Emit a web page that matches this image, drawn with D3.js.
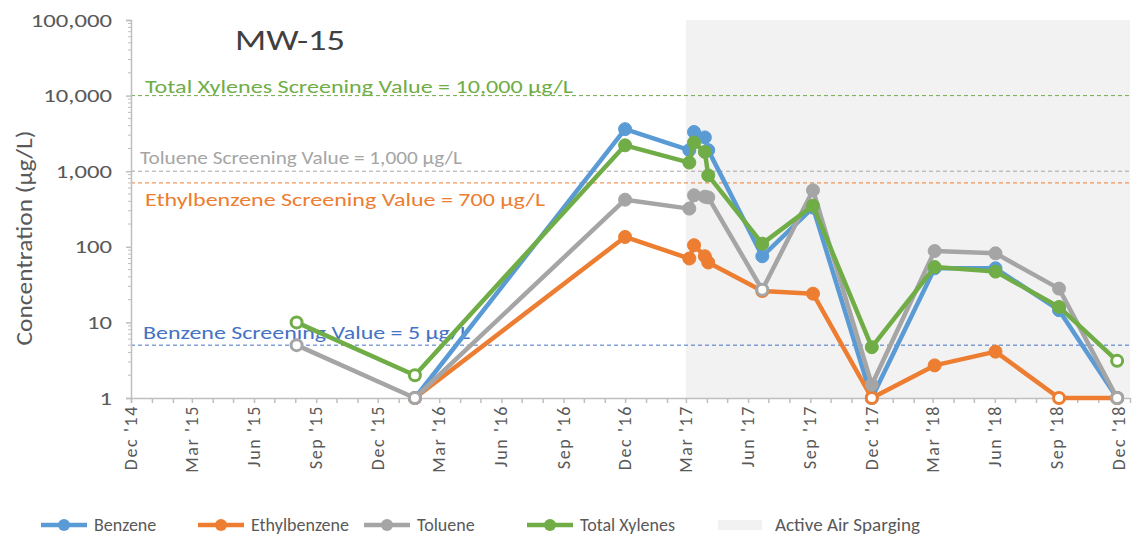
<!DOCTYPE html>
<html>
<head>
<meta charset="utf-8">
<script src="https://cdn.jsdelivr.net/npm/d3@7"></script>
<style>
  html, body { margin: 0; padding: 0; background: #fff; }
  svg { display: block; font-family: Carlito, Calibri, Lato, "Open Sans", sans-serif; }
</style>
</head>
<body>
<svg id="chart" width="1139" height="542"></svg>
<script>
// Sampling dates for well MW-15
const sampleDates = ["2015-08-03", "2016-01-25", "2016-12-01", "2017-03-06", "2017-03-13",
  "2017-03-29", "2017-04-03", "2017-06-22", "2017-09-05", "2017-12-01",
  "2018-03-04", "2018-06-02", "2018-09-04", "2018-11-29"];

// Concentrations in µg/L (null = not sampled)
const benzene      = [null, 1, 3600, 1900, 3300, 2800, 1900, 75, 330, 1, 52, 52, 14.5, 1];
const ethylbenzene = [null, 1, 135, 70, 105, 75, 62, 26, 24, 1, 2.7, 4.1, 1, 1];
const toluene      = [5, 1, 420, 320, 480, 460, 450, 27, 560, 1.5, 88, 82, 28, 1];
const xylenes      = [10, 2, 2200, 1300, 2400, 1800, 880, 110, 350, 4.7, 54, 47, 16, 3.1];

// Non-detect flags (true = below reporting limit, drawn hollow)
const benzeneND      = [false, true, false, false, false, false, false, false, false, true, false, false, false, true];
const ethylbenzeneND = [false, true, false, false, false, false, false, true, false, true, false, false, true, true];
const tolueneND      = [true, true, false, false, false, false, false, true, false, false, false, false, false, true];
const xylenesND      = [true, true, false, false, false, false, false, false, false, false, false, false, false, true];

const seriesNames = ["Benzene", "Ethylbenzene", "Toluene", "Total Xylenes"];
const seriesColors = ["#5B9BD5", "#ED7D31", "#A5A5A5", "#70AD47"];

// Screening values
const screeningLabels = ["Total Xylenes Screening Value = 10,000 µg/L", "Toluene Screening Value = 1,000 µg/L",
  "Ethylbenzene Screening Value = 700 µg/L", "Benzene Screening Value = 5 µg/L"];
const screeningValues = [10000, 1000, 700, 5];
const screeningColors = ["#70AD47", "#A5A5A5", "#ED7D31", "#4472C4"];

// Active air sparging period
const sparging = ["2017-03-01", "2018-12-18"];

const yTicks = [1, 10, 100, 1000, 10000, 100000];
const xDomain = ["2014-12-01", "2018-12-18"];

const parse = d3.utcParse("%Y-%m-%d");
const svg = d3.select("#chart");

const x = d3.scaleUtc().domain(xDomain.map(parse)).range([131, 1130]);
const y = d3.scaleLog().domain([1, 100000]).range([398, 20]);

const axisColor = "#BFBFBF";
const textColor = "#595959";

// Shaded sparging period
svg.append("rect")
  .attr("x", x(parse(sparging[0])))
  .attr("y", y(100000))
  .attr("width", x(parse(sparging[1])) - x(parse(sparging[0])))
  .attr("height", y(1) - y(100000))
  .attr("fill", "#F2F2F2");

// Screening value lines
screeningValues.forEach((v, i) => {
  svg.append("line")
    .attr("x1", x.range()[0]).attr("x2", x.range()[1])
    .attr("y1", y(v)).attr("y2", y(v))
    .attr("stroke", screeningColors[i])
    .attr("stroke-width", 1)
    .attr("stroke-dasharray", "4,3");
});
const labelPos = [[145, 93], [140, 164], [145, 206], [143, 339]];
const labelWidth = [428, 322, 400, 327];
screeningLabels.forEach((t, i) => {
  svg.append("text")
    .attr("x", labelPos[i][0]).attr("y", labelPos[i][1])
    .attr("fill", screeningColors[i])
    .attr("font-size", 19)
    .attr("textLength", labelWidth[i])
    .attr("lengthAdjust", "spacingAndGlyphs")
    .text(t);
});

// Y axis
const yAxis = d3.axisLeft(y).tickValues(yTicks).tickFormat(d3.format(",")).tickSize(5);
const gy = svg.append("g").attr("transform", "translate(131,0)").call(yAxis);
gy.select(".domain").attr("stroke", axisColor).attr("stroke-width", 1.5);
gy.selectAll(".tick line").attr("stroke", axisColor).attr("stroke-width", 1.5);
const ySx = 1.3;
gy.selectAll(".tick text").attr("fill", textColor).attr("font-size", 19)
  .attr("font-family", "Carlito, Calibri, Lato, sans-serif")
  .attr("x", -19 / ySx)
  .attr("transform", `scale(${ySx},1)`);
// Minor log ticks
const minor = [];
for (let d = 1; d < 100000; d *= 10) for (let k = 2; k <= 9; k++) minor.push(d * k);
svg.append("g").selectAll("line").data(minor).join("line")
  .attr("x1", 128).attr("x2", 131)
  .attr("y1", d => y(d)).attr("y2", d => y(d))
  .attr("stroke", axisColor).attr("stroke-width", 1);

// X axis
const monthTicks = d3.utcMonth.range(parse(xDomain[0]), d3.utcDay.offset(parse(xDomain[1]), 1));
const quarterTicks = monthTicks.filter((d, i) => i % 3 === 0);
const xAxis = d3.axisBottom(x).tickValues(monthTicks).tickSize(5).tickFormat("");
const gx = svg.append("g").attr("transform", `translate(0,${y(1)})`).call(xAxis);
gx.select(".domain").attr("stroke", axisColor).attr("stroke-width", 1.5);
gx.selectAll(".tick line").attr("stroke", axisColor).attr("stroke-width", 1.5);
const fmtMonth = d3.utcFormat("%b");
const fmtYear = d3.utcFormat("%y");
svg.append("g").selectAll("text").data(quarterTicks).join("text")
  .attr("transform", d => `translate(${x(d) + 6},${y(1) + 7}) rotate(-90)`)
  .attr("text-anchor", "end")
  .attr("fill", textColor)
  .attr("font-size", 18)
  .attr("letter-spacing", 1.6)
  .text(d => `${fmtMonth(d)} '${fmtYear(d)}`);

// Y axis title
svg.append("text")
  .attr("transform", "translate(32,238) rotate(-90)")
  .attr("text-anchor", "middle")
  .attr("fill", textColor)
  .attr("font-size", 22)
  .attr("textLength", 215)
  .attr("lengthAdjust", "spacingAndGlyphs")
  .text("Concentration (µg/L)");

// Chart title
svg.append("text")
  .attr("x", 235).attr("y", 50)
  .attr("fill", "#404040")
  .attr("font-size", 29)
  .attr("textLength", 110)
  .attr("lengthAdjust", "spacingAndGlyphs")
  .text("MW-15");

// Series
const dates = sampleDates.map(parse);
const seriesValues = [benzene, ethylbenzene, toluene, xylenes];
const seriesND = [benzeneND, ethylbenzeneND, tolueneND, xylenesND];
const line = d3.line().defined(d => d.v != null).x(d => x(d.date)).y(d => y(d.v));

seriesValues.forEach((vals, s) => {
  const pts = vals.map((v, i) => ({ date: dates[i], v, nd: seriesND[s][i] }));
  const g = svg.append("g");
  g.append("path")
    .datum(pts.filter(p => p.v != null))
    .attr("fill", "none")
    .attr("stroke", seriesColors[s])
    .attr("stroke-width", 4.5)
    .attr("stroke-linejoin", "round")
    .attr("d", line);
  g.selectAll("circle").data(pts.filter(p => p.v != null)).join("circle")
    .attr("cx", d => x(d.date))
    .attr("cy", d => y(d.v))
    .attr("r", d => d.nd ? 5.5 : 6.5)
    .attr("fill", d => d.nd ? "#FFFFFF" : seriesColors[s])
    .attr("stroke", seriesColors[s])
    .attr("stroke-width", d => d.nd ? 3 : 1);
});

// Legend
const legendY = 525;
const legendX = [41, 198, 364, 527];
seriesNames.forEach((n, i) => {
  const lx = legendX[i];
  svg.append("line").attr("x1", lx).attr("x2", lx + 46)
    .attr("y1", legendY).attr("y2", legendY)
    .attr("stroke", seriesColors[i]).attr("stroke-width", 4.5);
  svg.append("circle").attr("cx", lx + 23).attr("cy", legendY).attr("r", 6)
    .attr("fill", seriesColors[i]);
  svg.append("text").attr("x", lx + 53).attr("y", legendY + 6)
    .attr("fill", textColor).attr("font-size", 18).text(n);
});
svg.append("rect").attr("x", 718).attr("y", legendY - 5).attr("width", 44).attr("height", 10)
  .attr("fill", "#F2F2F2");
svg.append("text").attr("x", 775).attr("y", legendY + 6)
  .attr("fill", textColor).attr("font-size", 18)
  .attr("textLength", 145).attr("lengthAdjust", "spacingAndGlyphs")
  .text("Active Air Sparging");
</script>
</body>
</html>
